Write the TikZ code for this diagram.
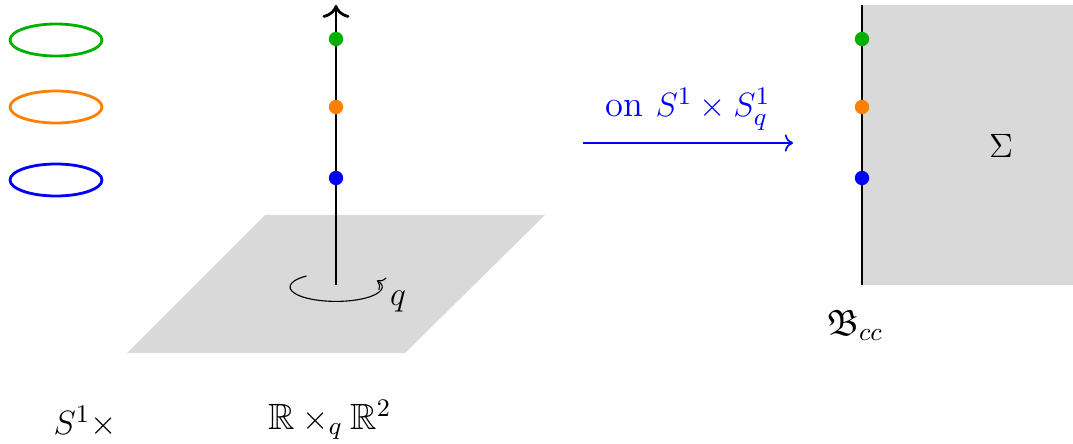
\documentclass[tikz,border=0pt]{standalone}
\usepackage{amsmath,amssymb}
\usetikzlibrary{arrows.meta}
\definecolor{ptgreen}{RGB}{0,175,0}
\definecolor{ptorange}{RGB}{255,128,0}
\definecolor{planegray}{RGB}{217,217,217}
\begin{document}
\begin{tikzpicture}[every node/.style={font=\fontsize{13}{15}\selectfont},
    dot/.style={circle, fill=#1, inner sep=0pt, minimum size=0.18cm},
    loopring/.style={draw=#1, line width=1pt}]
    \useasboundingbox (0,0) rectangle (13.4125,5.5375);

    % Three coloured circles on the left
    \foreach \c/\y in {ptgreen/5.0375, ptorange/4.2, blue/3.2875}
        \draw[loopring=\c] (0.7,\y) ellipse (0.575 and 0.2);

    % Plane R^2 with the line R sticking out of it
    \fill[planegray] (3.3125,2.85) -- (6.8125,2.85) -- (5.0625,1.125) -- (1.5875,1.125) -- cycle;
    \coordinate (base) at (4.2,1.975);
    \coordinate (tip) at (4.2,5.475);
    \draw[line width=1pt, -{To[scale=1.2]}] (base) -- (tip);
    \draw[-To] (4.2,1.95) ++(130:0.575 and 0.18) arc[start angle=130, end angle=387, x radius=0.575, y radius=0.18];
    \node (q) at (4.975,1.7625) {$q$};
    \foreach \c/\y/\n in {ptgreen/5.05/g, ptorange/4.2/o, blue/3.3125/b}
        \node[dot=\c] (l\n) at (4.2,\y) {};

    % Blue map
    \coordinate (from) at (7.2875,3.75);
    \coordinate (to) at (9.9125,3.75);
    \draw[semithick, -To, blue] (from) -- node[above=1pt] (map) {on $S^1\times S^1_q$} (to);

    % Half plane Sigma with its boundary
    \fill[planegray] (10.775,1.975) rectangle (13.4125,5.475);
    \coordinate (bbot) at (10.775,1.975);
    \coordinate (btop) at (10.775,5.475);
    \draw[line width=1pt] (bbot) -- (btop);
    \foreach \c/\y/\n in {ptgreen/5.05/g, ptorange/4.2/o, blue/3.3125/b}
        \node[dot=\c] (r\n) at (10.775,\y) {};
    \node (sigma) at (12.5125,3.7125) {$\Sigma$};
    \node (bcc) at (10.6875,1.475) {$\mathfrak{B}_{cc}$};

    % Labels underneath
    \node (circ) at (1.0625,0.2625) {$S^1\times$};
    \node (space) at (4.125,0.29) {$\mathbb{R}\times_q\mathbb{R}^2$};
\end{tikzpicture}
\end{document}
